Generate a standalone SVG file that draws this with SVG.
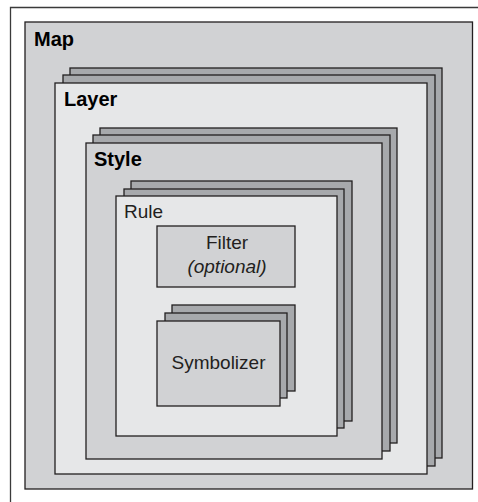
<svg xmlns="http://www.w3.org/2000/svg" width="478" height="502" viewBox="0 0 478 502">
<style>
.s{stroke:#231f20;stroke-width:1.3}
.mid{fill:#d1d2d4}
.light{fill:#e6e7e8}
.back{fill:#a7a9ac}
.b{font-family:"Liberation Sans",Arial,sans-serif;font-weight:bold;font-size:20px;fill:#000}
.r{font-family:"Liberation Sans",Arial,sans-serif;font-size:19px;fill:#231f20}
</style>
<rect width="478" height="502" fill="#fff"/>
<path d="M10.5,502V7.5H478" fill="none" stroke="#3a3a3a" stroke-width="1.3"/>
<g id="map">
<rect class="s mid" x="25" y="22" width="447.5" height="467"/>
<text class="b" x="34" y="46">Map</text>
</g>
<g id="layer">
<rect class="s back" x="70" y="68" width="372" height="390"/>
<rect class="s back" x="63" y="75" width="372" height="391"/>
<rect class="s light" x="55" y="83" width="372" height="391"/>
<text class="b" x="64" y="106">Layer</text>
</g>
<g id="style">
<rect class="s back" x="100" y="128" width="297" height="315"/>
<rect class="s back" x="93" y="135" width="297" height="316"/>
<rect class="s mid" x="86" y="143" width="296" height="316"/>
<text class="b" x="94" y="166">Style</text>
</g>
<g id="rule">
<rect class="s back" x="131" y="181" width="221" height="240"/>
<rect class="s back" x="124" y="189" width="220" height="239"/>
<rect class="s light" x="116" y="196" width="221" height="240"/>
<text class="r" x="124" y="218">Rule</text>
</g>
<g id="filter">
<rect class="s mid" x="157" y="226" width="138" height="61"/>
<text class="r" x="227" y="249" text-anchor="middle">Filter</text>
<text class="r" x="227" y="273" text-anchor="middle" font-style="italic">(optional)</text>
</g>
<g id="symbolizer">
<rect class="s back" x="172" y="305" width="123" height="86"/>
<rect class="s back" x="165" y="313" width="122" height="85"/>
<rect class="s mid" x="157" y="321" width="123" height="85"/>
<text class="r" x="218.5" y="369" text-anchor="middle">Symbolizer</text>
</g>
<g id="connectors"/>
</svg>
